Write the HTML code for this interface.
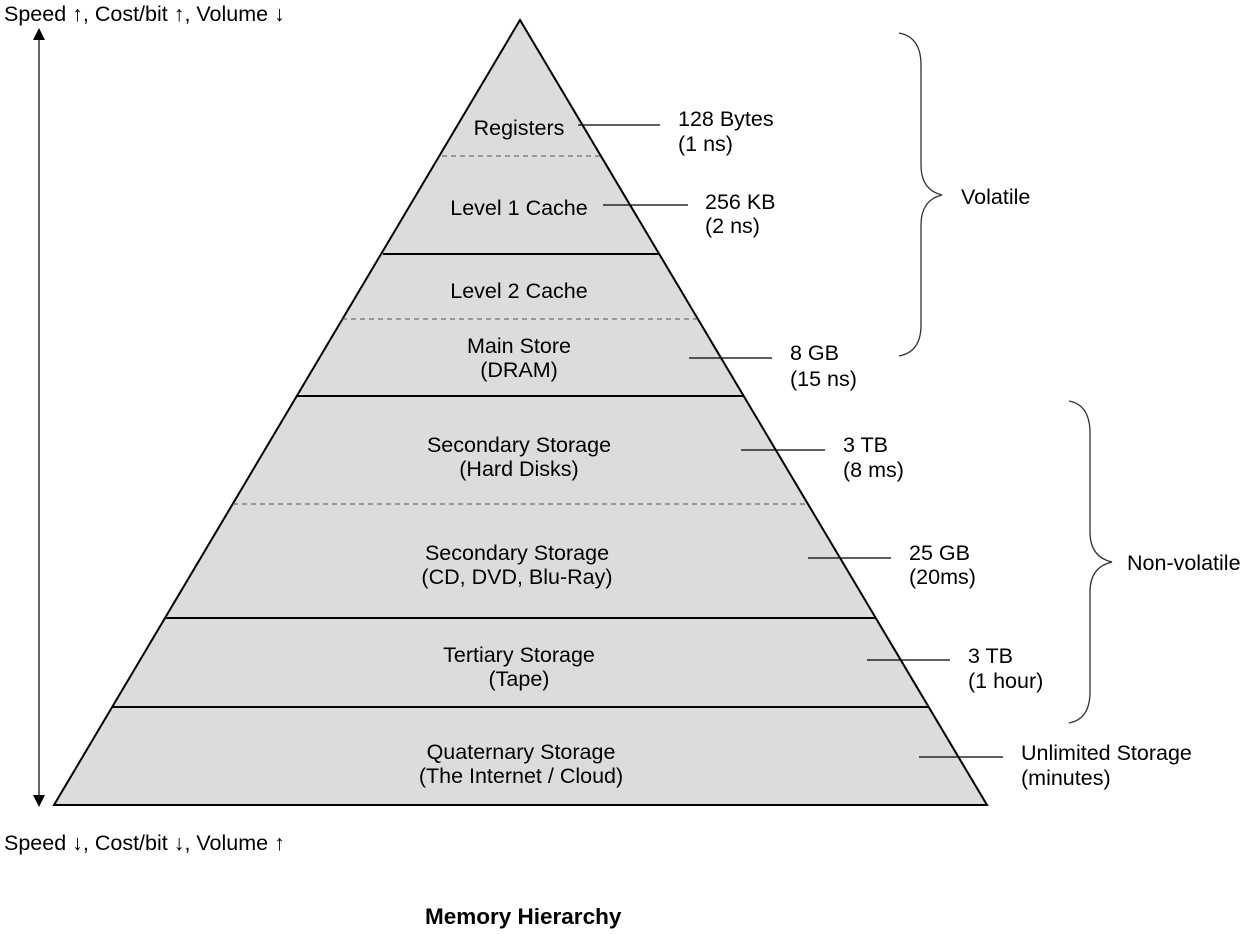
<!DOCTYPE html>
<html><head><meta charset="utf-8"><style>
body{margin:0;background:#fff}
svg{display:block}
text{font-family:"Liberation Sans",sans-serif;font-size:21.5px;fill:#000}
</style></head><body>
<svg width="1246" height="934" viewBox="0 0 1246 934">
<polygon points="520,20 54,805 987,805" fill="#dcdcdc" stroke="#000" stroke-width="2"/>
<g stroke="#000" stroke-width="2">
<line x1="383" y1="254" x2="659" y2="254"/>
<line x1="297" y1="396" x2="743" y2="396"/>
<line x1="165" y1="618" x2="875" y2="618"/>
<line x1="112" y1="707" x2="928" y2="707"/>
</g>
<g stroke="#555" stroke-width="1" stroke-dasharray="5,4">
<line x1="442" y1="156" x2="600" y2="156"/>
<line x1="342" y1="319" x2="698" y2="319"/>
<line x1="233" y1="504" x2="807" y2="504"/>
</g>
<g stroke="#000" stroke-width="1.2">
<line x1="578" y1="125" x2="660" y2="125"/>
<line x1="603" y1="205" x2="688" y2="205"/>
<line x1="689" y1="358" x2="772" y2="358"/>
<line x1="741" y1="450" x2="825" y2="450"/>
<line x1="808" y1="558" x2="891" y2="558"/>
<line x1="867" y1="660" x2="950" y2="660"/>
<line x1="919" y1="757" x2="1003" y2="757"/>
<line x1="39" y1="38" x2="39" y2="797"/>
</g>
<path d="M33,40 L39,28 L45,40 z M33,795 L39,807 L45,795 z" fill="#000"/>
<g fill="none" stroke="#333" stroke-width="1.3">
<path d="M899,33 Q921,37 921,65 L921,165 Q921,190 942,195 Q921,200 921,225 L921,325 Q921,352 899,356"/>
<path d="M1069,401 Q1090,405 1090,433 L1090,532 Q1090,557 1112,562 Q1090,567 1090,592 L1090,692 Q1090,719 1069,723"/>
</g>
<g text-anchor="middle">
<text x="519" y="135">Registers</text>
<text x="519" y="215">Level 1 Cache</text>
<text x="519" y="298">Level 2 Cache</text>
<text x="519" y="353">Main Store</text>
<text x="519" y="377">(DRAM)</text>
<text x="519" y="452">Secondary Storage</text>
<text x="519" y="476">(Hard Disks)</text>
<text x="517" y="560">Secondary Storage</text>
<text x="517" y="584">(CD, DVD, Blu-Ray)</text>
<text x="519" y="662">Tertiary Storage</text>
<text x="519" y="686">(Tape)</text>
<text x="521" y="759">Quaternary Storage</text>
<text x="521" y="783">(The Internet / Cloud)</text>
</g>
<text x="678" y="126">128 Bytes</text><text x="678" y="151">(1 ns)</text>
<text x="705" y="209">256 KB</text><text x="705" y="233">(2 ns)</text>
<text x="790" y="360">8 GB</text><text x="790" y="386">(15 ns)</text>
<text x="843" y="452">3 TB</text><text x="843" y="477">(8 ms)</text>
<text x="909" y="560">25 GB</text><text x="909" y="584">(20ms)</text>
<text x="968" y="663">3 TB</text><text x="968" y="688">(1 hour)</text>
<text x="1021" y="760">Unlimited Storage</text><text x="1021" y="785">(minutes)</text>
<text x="961" y="204">Volatile</text>
<text x="1127" y="570">Non-volatile</text>
<text x="4" y="21">Speed ↑, Cost/bit ↑, Volume ↓</text>
<text x="4" y="850">Speed ↓, Cost/bit ↓, Volume ↑</text>
<text x="425" y="924" style="font-weight:bold;font-size:22.5px">Memory Hierarchy</text>
</svg>
</body></html>
